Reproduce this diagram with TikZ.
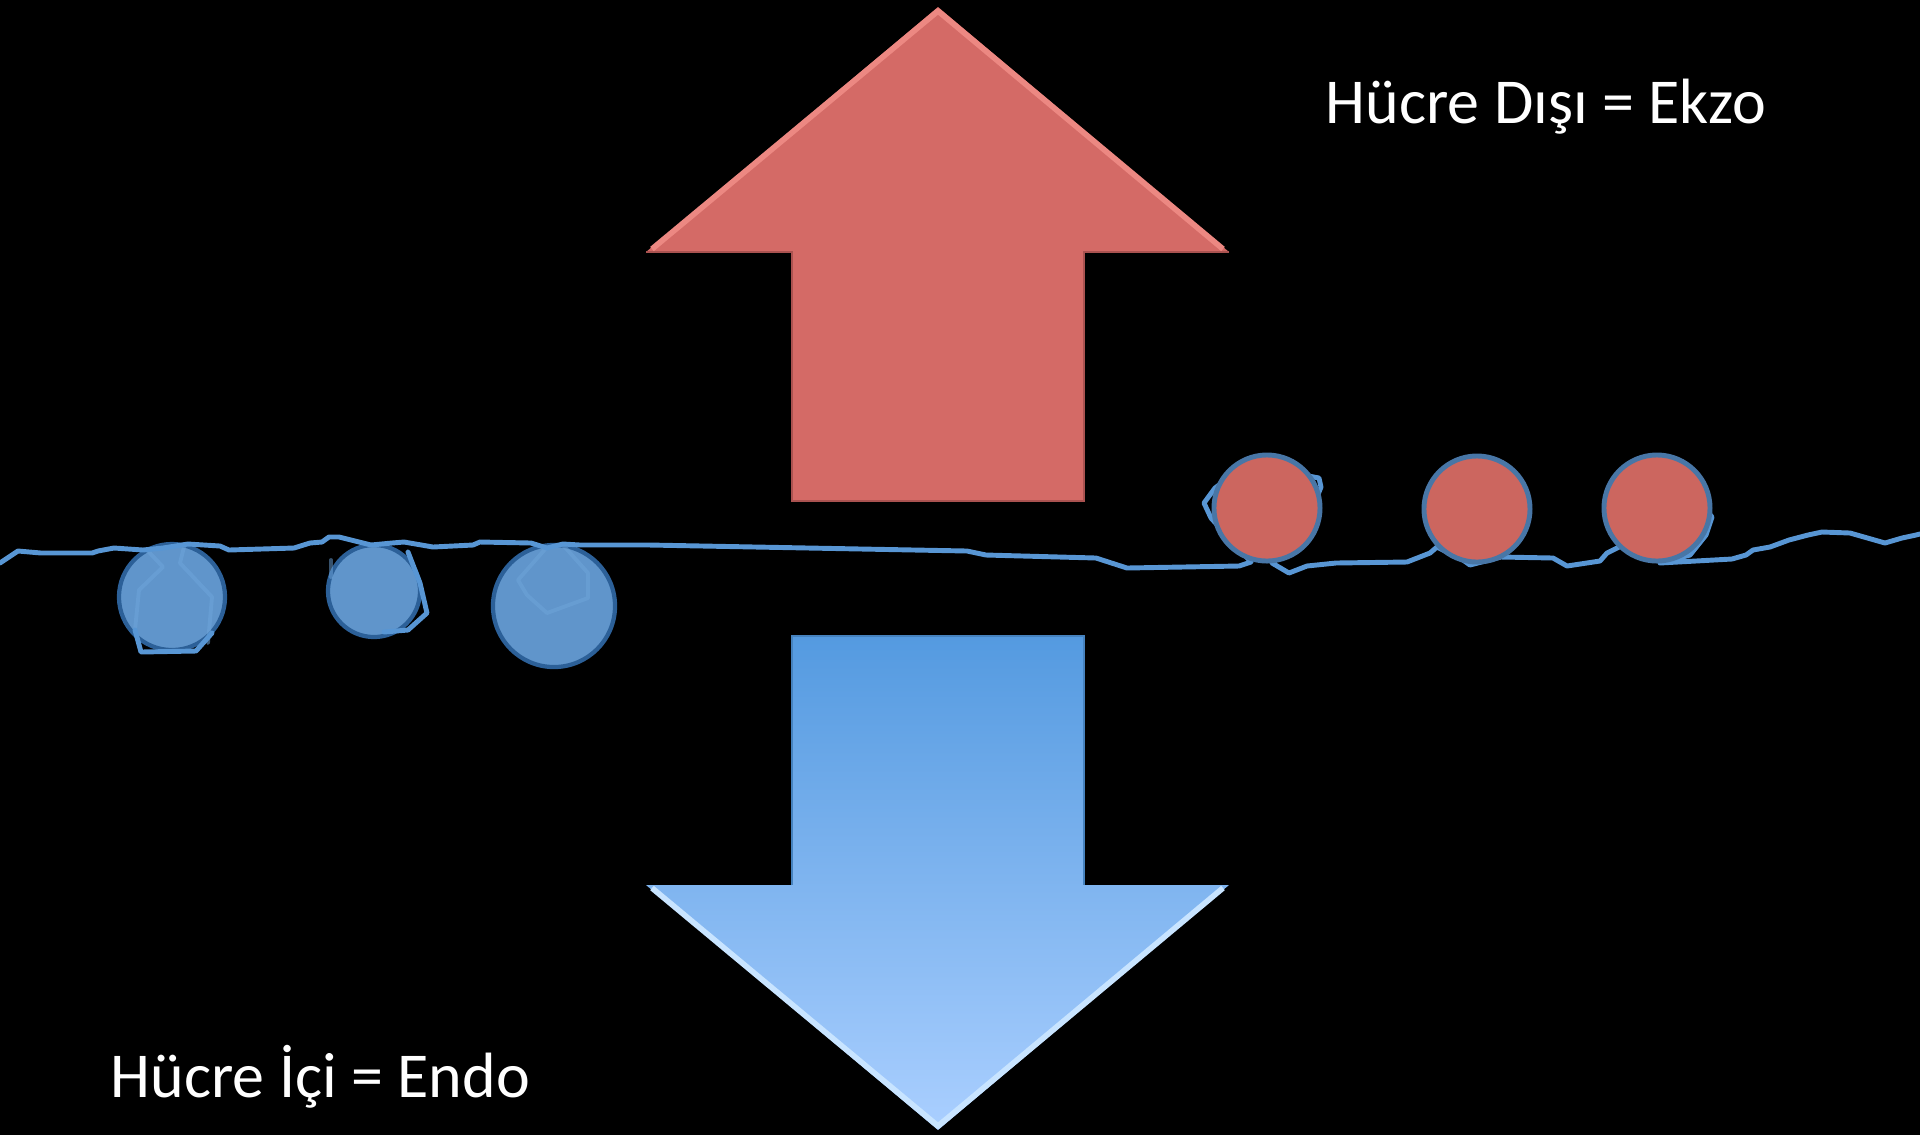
\documentclass[tikz,border=0pt]{standalone}
\usepackage{fontspec}
\setmainfont{Carlito}
\begin{document}
\begin{tikzpicture}[x=0.01cm,y=-0.01cm,
  label/.style={text=white,inner sep=0pt,font=\fontsize{18.2}{21}\selectfont},
  membrane/.style={draw=memb,line width=1.4pt,line join=round,line cap=round},
  faint/.style={draw=membfaint,line width=1.1pt,line join=round,line cap=round},
  bluedot/.style={circle,draw=bluerim,fill=bluefill,line width=1.2pt,inner sep=0pt},
  reddot/.style={circle,draw=redrim,fill=redfill,line width=1.4pt,inner sep=0pt,minimum size=1.06cm}]
\definecolor{memb}{RGB}{88,150,212}
\definecolor{membfaint}{RGB}{110,165,218}
\definecolor{bluefill}{RGB}{96,149,203}
\definecolor{bluerim}{RGB}{44,96,152}
\definecolor{redfill}{RGB}{204,102,95}
\definecolor{redrim}{RGB}{72,118,166}
\definecolor{uparrow}{RGB}{212,106,102}
\definecolor{uplight}{RGB}{236,136,130}
\definecolor{updark}{RGB}{170,82,80}
\definecolor{downtop}{RGB}{84,154,224}
\definecolor{downbottom}{RGB}{170,207,255}
\definecolor{downlight}{RGB}{200,228,255}
\definecolor{downdark}{RGB}{70,130,190}

% black page
\fill[black] (0,0) rectangle (1920,1135);
\useasboundingbox (0,0) rectangle (1920,1135);

% outward arrow (exo)
\fill[uparrow] (938,7) -- (1229,252) -- (1084,252) -- (1084,501) -- (792,501) -- (792,252) -- (646,252) -- cycle;
\draw[updark,line width=0.8pt,line join=miter] (1229,252) -- (1084,252) -- (1084,501) -- (792,501) -- (792,252) -- (646,252);
\draw[uplight,line width=1.6pt,line join=round] (652,249) -- (938,11) -- (1223,249);

% inward arrow (endo)
\shade[top color=downtop,bottom color=downbottom] (792,636) -- (1084,636) -- (1084,885) -- (1229,885) -- (938,1130) -- (646,885) -- (792,885) -- cycle;
\draw[downdark,line width=0.8pt] (792,885) -- (792,636) -- (1084,636) -- (1084,885);
\draw[downlight,line width=1.6pt,line join=round] (652,888) -- (938,1126) -- (1223,888);

% vesicles inside the cell
\node[bluedot,minimum size=1.06cm] (b1) at (172,597) {};
\node[bluedot,minimum size=0.92cm] (b2) at (374,591) {};
\node[bluedot,minimum size=1.22cm] (b3) at (554,606) {};

% membrane folds over the inner vesicles
\draw[faint,opacity=0.55] (147,550) -- (163,567) -- (139,590) -- (135,630);
\draw[faint,opacity=0.55] (184,547) -- (180,563) -- (212,597) -- (208,643);
\draw[membrane] (135,630) -- (141,652) -- (196,651) -- (212,633);
\draw[membrane] (408,552) -- (420,583) -- (427,613) -- (408,630) -- (384,632);
\draw[faint,opacity=0.5] (331,560) -- (331,577);
\draw[faint,opacity=0.5] (547,547) -- (518,580) -- (527,595) -- (547,613) -- (588,598) -- (588,573) -- (563,545);

% plasma membrane
\draw[membrane] (0,563) -- (18,551) -- (41,553) -- (92,553) -- (98,551) -- (114,548) -- (143,550) -- (163,548) -- (188,544) -- (220,546) -- (229,550) -- (294,548) -- (310,543) -- (322,542) -- (329,537) -- (339,537) -- (359,542) -- (371,545) -- (392,543) -- (404,542) -- (433,547) -- (473,545) -- (480,542) -- (531,543) -- (547,548) -- (563,544) -- (580,545) -- (649,545) -- (967,551) -- (986,555) -- (1096,558) -- (1127,568) -- (1239,566) -- (1251,562) -- (1211,518) -- (1204,503) -- (1215,488) -- (1250,462) -- (1303,475) -- (1319,478) -- (1321,487) -- (1300,540) -- (1272,563) -- (1289,573) -- (1307,566) -- (1336,563) -- (1407,562) -- (1430,553) -- (1437,547) -- (1463,560) -- (1470,565) -- (1501,557) -- (1553,558) -- (1567,566) -- (1600,561) -- (1607,553) -- (1619,547) -- (1690,490) -- (1712,517) -- (1706,535) -- (1690,555) -- (1660,563) -- (1732,559) -- (1746,555) -- (1753,550) -- (1770,547) -- (1789,540) -- (1808,535) -- (1822,532) -- (1850,533) -- (1885,543) -- (1902,538) -- (1916,535) -- (1920,534);

% particles leaving the cell
\node[reddot] (r1) at (1267,508) {};
\node[reddot] (r2) at (1477,509) {};
\node[reddot] (r3) at (1657,508) {};

% labels
\node[label,anchor=base west] (exo) at (1325,123) {Hücre Dışı = Ekzo};
\node[label,anchor=base west] (endo) at (110,1097) {Hücre İçi = Endo};
\end{tikzpicture}
\end{document}
